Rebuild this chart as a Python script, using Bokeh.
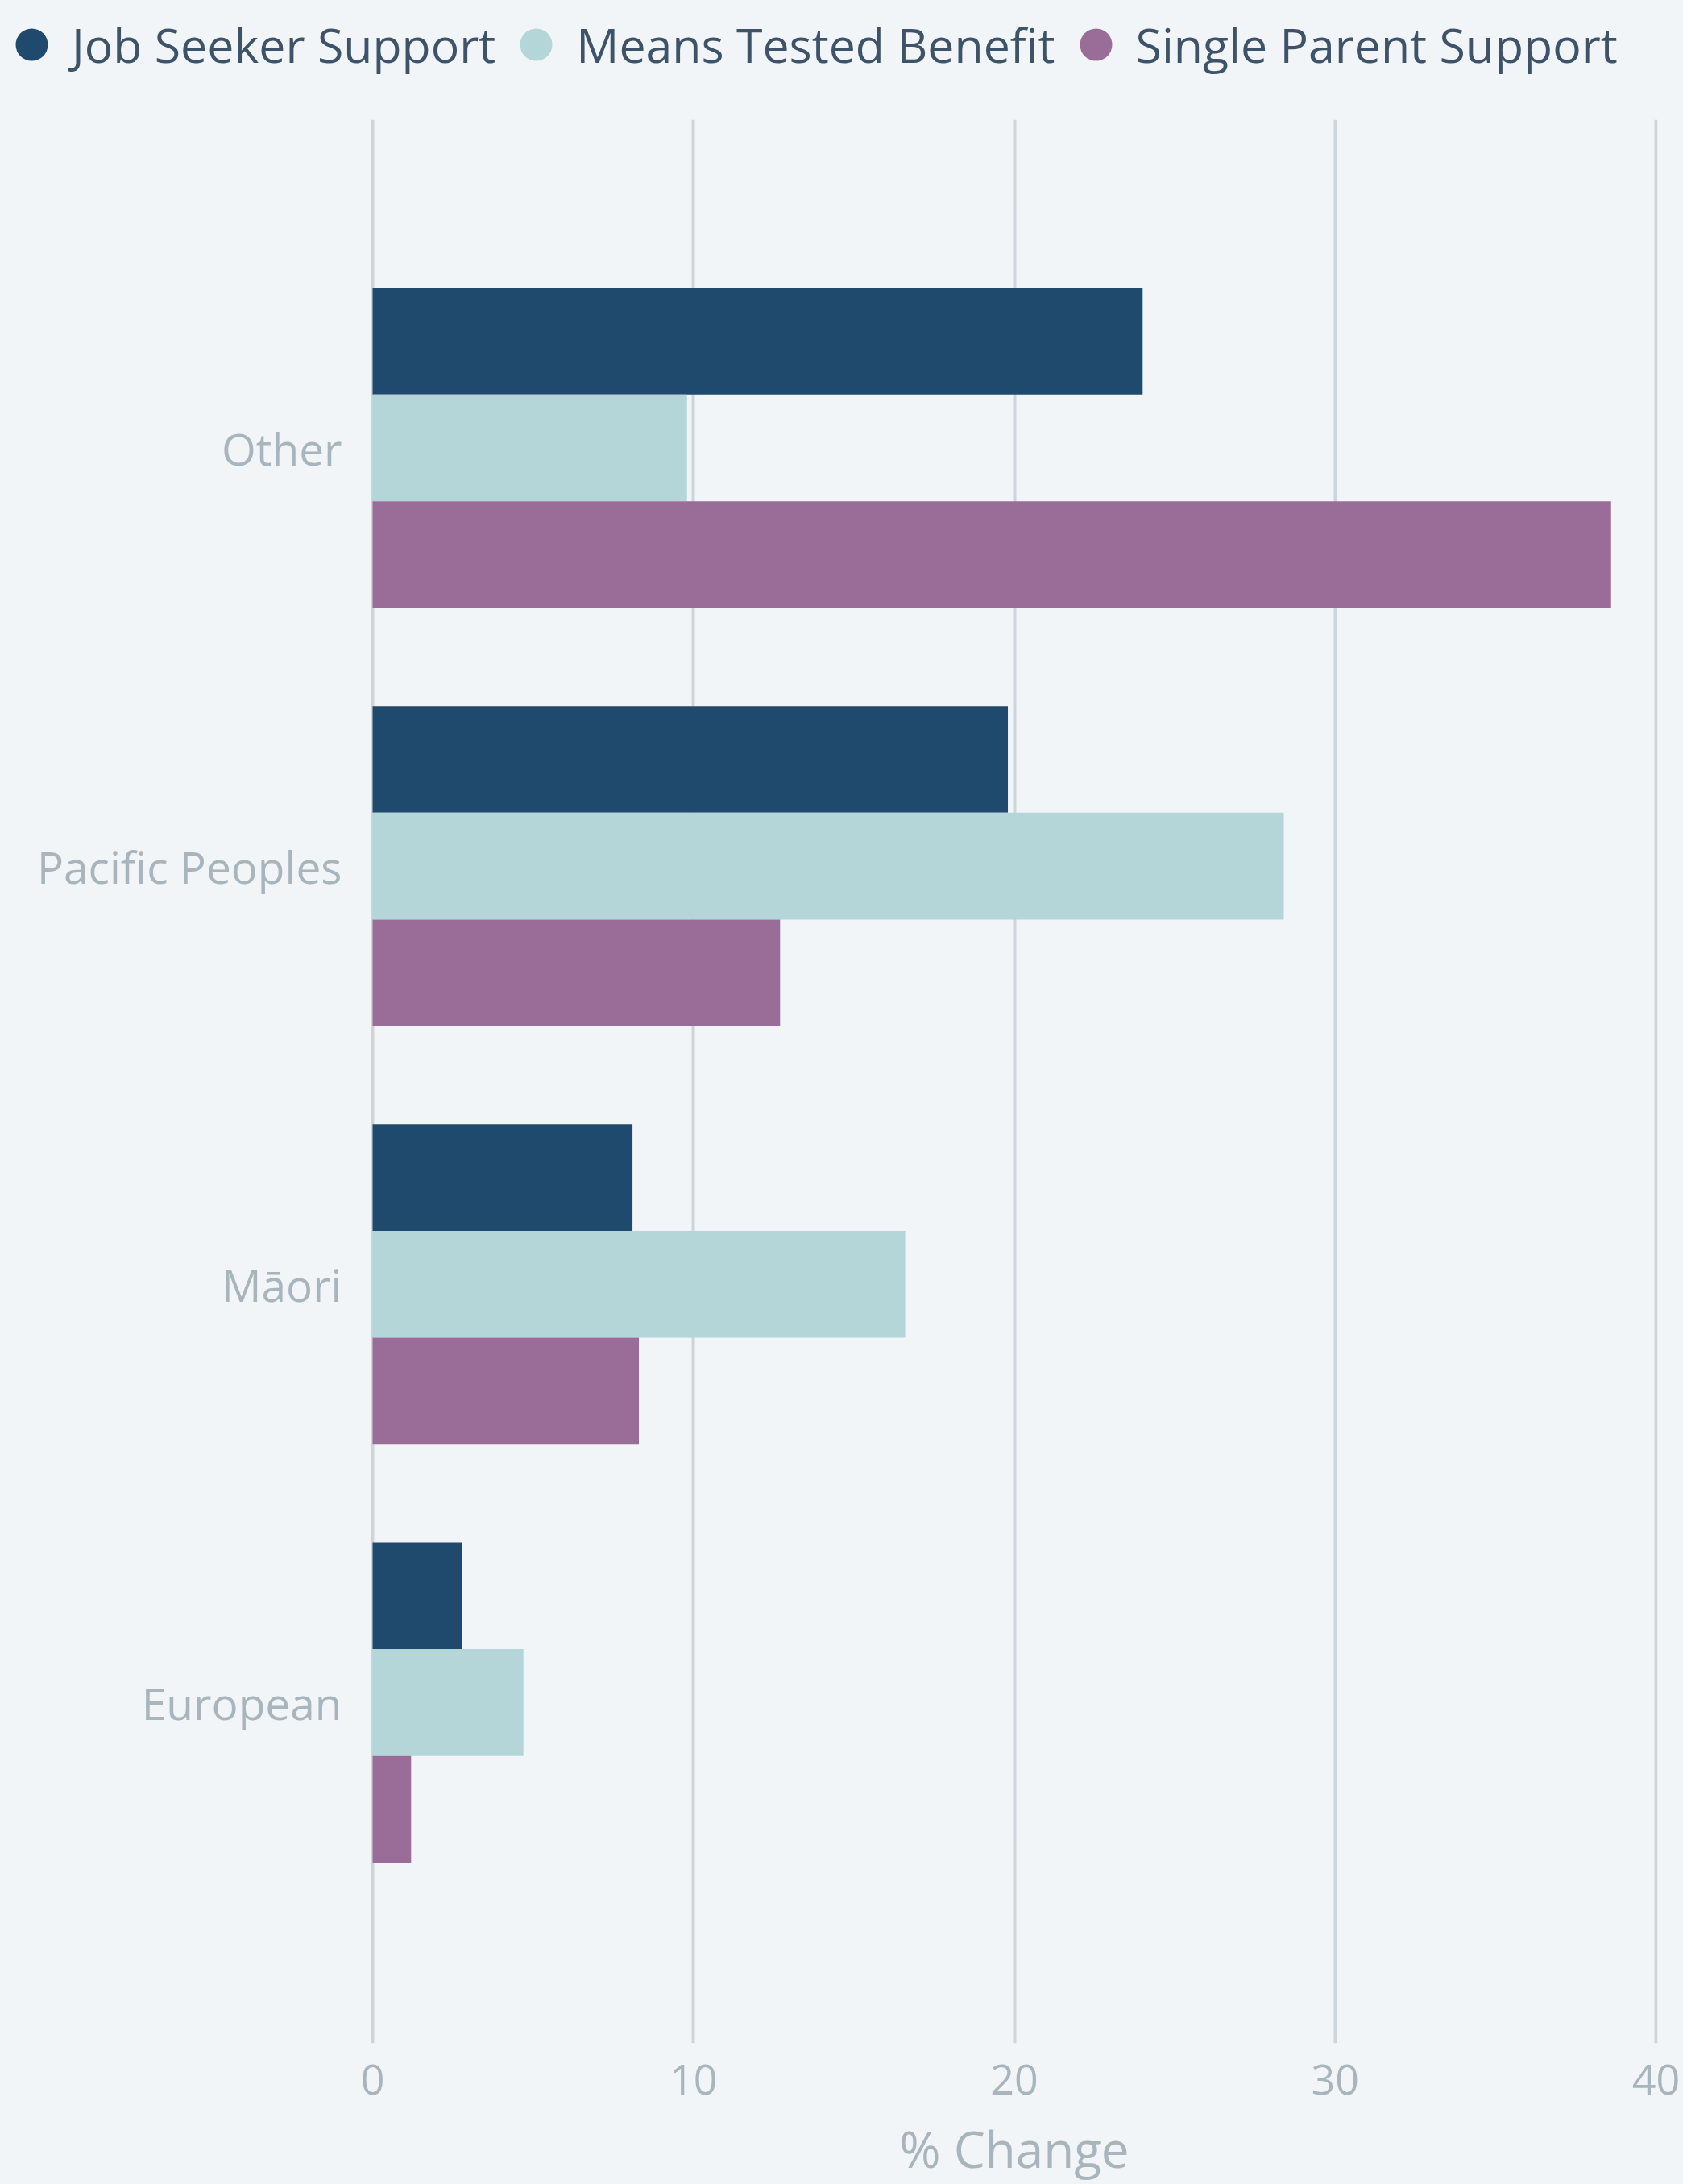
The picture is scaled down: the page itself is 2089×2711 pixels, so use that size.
import numpy as np
from bokeh.plotting import figure
from bokeh.models import Range1d, FixedTicker, Legend, LegendItem, ColumnDataSource
from bokeh.transform import dodge
from bokeh.embed import file_html
from bokeh.resources import INLINE

# ---- data ----
categories = ["Other", "Pacific Peoples", "Māori", "European"]
series = ["Job Seeker Support", "Means Tested Benefit", "Single Parent Support"]
job_seeker = [24.0, 19.8, 8.1, 2.8]
means_tested = [9.8, 28.4, 16.6, 4.7]
single_parent = [38.6, 12.7, 8.3, 1.2]
x_ticks = [0, 10, 20, 30, 40]
x_title = "% Change"

# ---- style ----
colors = ["#1f4a6d", "#b4d6d8", "#9a6c98"]
BG = "#f1f5f8"
GRID = "#cdd5db"
TICK_COLOR = "#a8b5bd"
LEGEND_COLOR = "#3e5368"
FONT = "Open Sans"
BAR_H = 0.2555
W, H, LEG_H = 2089, 2711, 148

pos = list(reversed(range(len(categories))))
source = ColumnDataSource(dict(pos=pos, cat=categories, js=job_seeker,
                               mt=means_tested, sp=single_parent))
keys = ["js", "mt", "sp"]
offsets = [BAR_H, 0.0, -BAR_H]

# ---- main chart ----
p = figure(width=W, height=H - LEG_H, output_backend="svg", toolbar_location=None,
           x_range=Range1d(-0.05, 40.05), y_range=Range1d(-0.815, 3.785),
           min_border_left=460, min_border_right=32, min_border_top=0,
           min_border_bottom=173)
p.background_fill_color = BG
p.border_fill_color = BG
p.outline_line_color = None

for key, off, color in zip(keys, offsets, colors):
    p.hbar(y=dodge("pos", off), left=0, right=key, height=BAR_H, source=source,
           fill_color=color, line_color=None)

p.xaxis.ticker = FixedTicker(ticks=x_ticks)
p.xaxis.axis_label = x_title
p.xaxis.axis_label_text_font = FONT
p.xaxis.axis_label_text_font_size = "62px"
p.xaxis.axis_label_text_font_style = "normal"
p.xaxis.axis_label_text_color = TICK_COLOR
p.xaxis.axis_label_standoff = 22
p.xaxis.major_label_text_font = FONT
p.xaxis.major_label_text_font_size = "52px"
p.xaxis.major_label_text_color = TICK_COLOR
p.xaxis.major_label_standoff = 26

p.yaxis.ticker = FixedTicker(ticks=pos)
p.yaxis.major_label_overrides = {int(k): c for k, c in zip(pos, categories)}
p.yaxis.major_label_text_font = FONT
p.yaxis.major_label_text_font_size = "55px"
p.yaxis.major_label_text_color = TICK_COLOR
p.yaxis.major_label_standoff = 36

for ax in (p.xaxis[0], p.yaxis[0]):
    ax.axis_line_color = None
    ax.major_tick_line_color = None
    ax.minor_tick_line_color = None
    ax.major_tick_out = 0
    ax.major_tick_in = 0

p.xgrid.ticker = FixedTicker(ticks=x_ticks)
p.xgrid.grid_line_color = GRID
p.xgrid.grid_line_width = 4
p.ygrid.grid_line_color = None

# ---- legend strip (separate root so its frame spans the full width) ----
lg = figure(width=W, height=LEG_H, output_backend="svg", toolbar_location=None,
            x_axis_type=None, y_axis_type=None, min_border=0,
            x_range=Range1d(0, 1), y_range=Range1d(0, 1))
lg.background_fill_color = BG
lg.border_fill_color = BG
lg.outline_line_color = None
lg.grid.visible = False

items = []
for key, off, color, name in zip(keys, offsets, colors, series):
    r = lg.scatter(x=key, y=dodge("pos", off), source=source, size=0,
                   fill_color=color, line_color=None, marker="circle")
    items.append(LegendItem(label=name, renderers=[r]))

legend = Legend(items=items, orientation="horizontal", location=(-11, 43),
                glyph_width=100, glyph_height=100, label_standoff=0, spacing=0,
                padding=0, margin=0, border_line_color=None,
                background_fill_alpha=0,
                label_text_font=FONT, label_text_font_size="59px",
                label_text_color=LEGEND_COLOR)
lg.add_layout(legend)

template = """{% block preamble %}<style>html, body { background: #f1f5f8; }
.bk-root, div[data-root-id] { margin: 0; padding: 0; }</style>{% endblock %}
"""

open("out.html", "w").write(file_html([lg, p], INLINE, template=template))
